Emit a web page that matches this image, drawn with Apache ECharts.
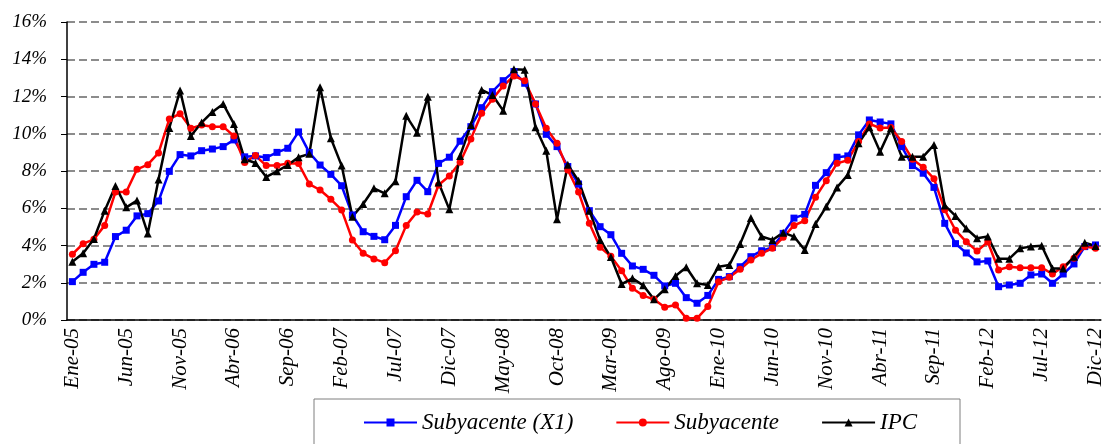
<!DOCTYPE html>
<html>
<head>
<meta charset="utf-8">
<script src="https://cdn.jsdelivr.net/npm/echarts@6/dist/echarts.min.js"></script>
<style>
  html, body { margin: 0; padding: 0; background: #fff; }
  #chart { width: 1106px; height: 444px; }
</style>
</head>
<body>
<div id="chart"></div>
<script>
// meses y años del eje x
const meses = ['Ene', 'Feb', 'Mar', 'Abr', 'May', 'Jun', 'Jul', 'Ago', 'Sep', 'Oct', 'Nov', 'Dic']
const anos = ['05', '06', '07', '08', '09', '10', '11', '12']

// Subyacente (X1)
const subyacenteX1 = [
  2.06, 2.56, 2.99, 3.10, 4.48, 4.82, 5.59, 5.71, 6.39, 7.98, 8.88, 8.81,
  9.09, 9.18, 9.31, 9.67, 8.76, 8.81, 8.72, 9.00, 9.22, 10.10, 8.99, 8.32,
  7.82, 7.21, 5.64, 4.74, 4.49, 4.31, 5.08, 6.62, 7.50, 6.89, 8.41, 8.74,
  9.60, 10.38, 11.40, 12.26, 12.85, 13.34, 12.71, 11.60, 9.97, 9.31, 8.24, 7.30,
  5.87, 5.01, 4.58, 3.58, 2.90, 2.72, 2.40, 1.83, 1.97, 1.20, 0.90, 1.32,
  2.18, 2.33, 2.86, 3.40, 3.72, 3.90, 4.65, 5.47, 5.67, 7.23, 7.91, 8.74,
  8.81, 9.94, 10.74, 10.63, 10.53, 9.31, 8.29, 7.88, 7.12, 5.19, 4.10, 3.60,
  3.12, 3.17, 1.79, 1.88, 1.97, 2.42, 2.47, 1.97, 2.47, 3.01, 3.94, 4.03
]

// Subyacente
const subyacente = [
  3.53, 4.10, 4.33, 5.08, 6.87, 6.87, 8.09, 8.34, 8.97, 10.79, 11.08, 10.29,
  10.47, 10.38, 10.38, 9.88, 8.46, 8.83, 8.29, 8.29, 8.41, 8.40, 7.30, 6.98,
  6.48, 5.91, 4.30, 3.58, 3.28, 3.08, 3.72, 5.08, 5.80, 5.69, 7.25, 7.73,
  8.47, 9.72, 11.10, 11.85, 12.57, 13.10, 12.85, 11.60, 10.29, 9.49, 8.06, 6.87,
  5.19, 3.90, 3.42, 2.65, 1.70, 1.31, 1.11, 0.68, 0.81, 0.09, 0.09, 0.72,
  2.06, 2.29, 2.72, 3.22, 3.58, 3.85, 4.44, 5.08, 5.33, 6.59, 7.48, 8.41,
  8.58, 9.58, 10.53, 10.31, 10.33, 9.58, 8.63, 8.20, 7.59, 5.92, 4.82, 4.20,
  3.70, 4.19, 2.69, 2.86, 2.81, 2.81, 2.81, 2.47, 2.86, 3.31, 3.94, 3.85
]

// IPC
const ipc = [
  3.13, 3.58, 4.35, 5.87, 7.20, 6.05, 6.41, 4.65, 7.55, 10.31, 12.32, 9.88,
  10.60, 11.17, 11.60, 10.53, 8.63, 8.43, 7.68, 7.98, 8.32, 8.74, 8.92, 12.50,
  9.76, 8.29, 5.55, 6.23, 7.07, 6.80, 7.45, 10.96, 10.06, 11.99, 7.38, 5.94,
  8.81, 10.47, 12.35, 12.08, 11.24, 13.46, 13.43, 10.35, 9.09, 5.41, 8.34, 7.47,
  5.87, 4.30, 3.38, 1.93, 2.24, 1.86, 1.11, 1.65, 2.36, 2.83, 1.97, 1.88,
  2.86, 2.95, 4.08, 5.48, 4.48, 4.30, 4.69, 4.48, 3.76, 5.16, 6.09, 7.12,
  7.79, 9.49, 10.35, 9.04, 10.29, 8.77, 8.77, 8.77, 9.40, 6.15, 5.59, 4.91,
  4.39, 4.48, 3.29, 3.29, 3.85, 3.94, 3.99, 2.76, 2.76, 3.40, 4.15, 3.97
]

const categorias = []
anos.forEach(a => {
  meses.forEach(m => {
    categorias.push(m + '-' + a)
  })
})

const fuente = 'Liberation Serif'

let chart = echarts.init(document.getElementById('chart'))
let option = {
  animation: false,
  backgroundColor: '#fff',
  grid: {
    left: 67,
    right: 2,
    top: 22,
    bottom: 124
  },
  graphic: [{
    type: 'rect',
    shape: { x: 314, y: 399, width: 646, height: 60 },
    style: { fill: '#fff', stroke: '#7f7f7f', lineWidth: 1 }
  }],
  legend: {
    top: 406,
    left: 358,
    itemWidth: 53,
    itemHeight: 10,
    itemGap: 42,
    textStyle: {
      fontFamily: fuente,
      fontStyle: 'italic',
      fontSize: 23,
      color: '#000'
    },
    data: ['Subyacente (X1)', 'Subyacente', 'IPC']
  },
  xAxis: {
    type: 'category',
    data: categorias,
    boundaryGap: true,
    axisLine: { lineStyle: { color: '#000', width: 1.5 } },
    axisTick: { interval: 1, length: 6, lineStyle: { color: '#777' } },
    axisLabel: {
      interval: 4,
      rotate: 90,
      margin: 8,
      fontFamily: fuente,
      fontStyle: 'italic',
      fontSize: 21,
      color: '#000'
    },
    splitLine: { show: false }
  },
  yAxis: {
    type: 'value',
    min: 0,
    max: 16,
    interval: 2,
    axisLine: { show: true, lineStyle: { color: '#000', width: 1.5 } },
    axisTick: { show: true, length: 6, lineStyle: { color: '#000' } },
    axisLabel: {
      formatter: v => v + '%',
      margin: 20,
      fontFamily: fuente,
      fontStyle: 'italic',
      fontSize: 19,
      color: '#000'
    },
    splitLine: {
      lineStyle: { color: '#8c8c8c', width: 2, type: [8, 4] }
    }
  },
  series: [{
    name: 'Subyacente (X1)',
    type: 'line',
    data: subyacenteX1,
    symbol: 'rect',
    symbolSize: 7,
    showAllSymbol: true,
    lineStyle: { color: '#0000ff', width: 2.5 },
    itemStyle: { color: '#0000ff' }
  }, {
    name: 'Subyacente',
    type: 'line',
    data: subyacente,
    symbol: 'circle',
    symbolSize: 7,
    showAllSymbol: true,
    lineStyle: { color: '#ff0000', width: 2.5 },
    itemStyle: { color: '#ff0000' }
  }, {
    name: 'IPC',
    type: 'line',
    data: ipc,
    symbol: 'triangle',
    symbolSize: 8,
    showAllSymbol: true,
    lineStyle: { color: '#000', width: 2.5 },
    itemStyle: { color: '#000' }
  }]
}
chart.setOption(option)
</script>
</body>
</html>
